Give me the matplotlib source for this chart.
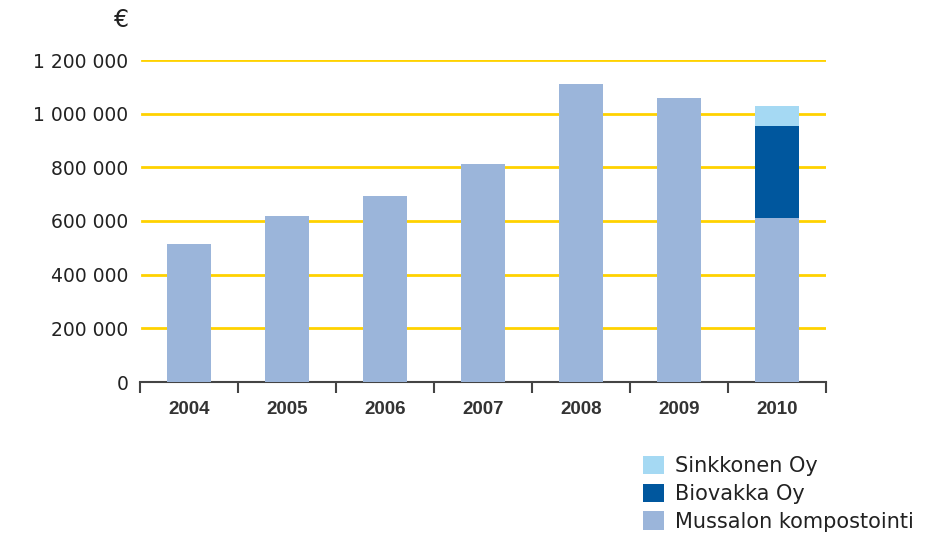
import numpy as np
import matplotlib.pyplot as plt
from matplotlib.ticker import FuncFormatter

years = ["2004", "2005", "2006", "2007", "2008", "2009", "2010"]
mussalon = [514000, 618000, 693000, 812000, 1111000, 1058000, 611000]
biovakka = [0, 0, 0, 0, 0, 0, 343000]
sinkkonen = [0, 0, 0, 0, 0, 0, 75000]
yticks = [0, 200000, 400000, 600000, 800000, 1000000, 1200000]

c_muss = "#9bb5da"
c_bio = "#00579e"
c_sink = "#a5d9f3"
c_grid = "#ffd200"

fig = plt.figure(figsize=(9.28, 5.36), dpi=100, facecolor="w")
ax = fig.add_axes([140/928, 1-382/536, 686/928, 322/536])

x = np.arange(len(years))
b1 = ax.bar(x, mussalon, width=0.45, color=c_muss, zorder=3, label="Mussalon kompostointi")
b2 = ax.bar(x, biovakka, width=0.45, bottom=mussalon, color=c_bio, zorder=3, label="Biovakka Oy")
bottom2 = np.array(mussalon) + np.array(biovakka)
b3 = ax.bar(x, sinkkonen, width=0.45, bottom=bottom2, color=c_sink, zorder=3, label="Sinkkonen Oy")

ax.set_xlim(-0.5, len(years) - 0.5)
ax.set_ylim(0, 1200000)
ax.set_yticks(yticks)
ax.yaxis.set_major_formatter(FuncFormatter(lambda v, p: f"{int(v):,}".replace(",", " ")))
ax.tick_params(axis="y", length=0, pad=8.5, labelsize=13.5, labelcolor="#222222")
for v in yticks[1:]:
    ax.axhline(v, xmin=0.003, color=c_grid, linewidth=2, zorder=1)

ax.set_xticks(np.arange(len(years) + 1) - 0.5)
ax.set_xticklabels([])
ax.tick_params(axis="x", length=8, width=1.5, color="#444444", direction="out")
ax.set_xticks(x, minor=True)
ax.set_xticklabels(years, minor=True, fontsize=13.5, fontweight="bold",
                   family="Liberation Sans", color="#333333")
ax.tick_params(axis="x", which="minor", length=0, pad=14)

for s in ["top", "right", "left"]:
    ax.spines[s].set_visible(False)
ax.spines["bottom"].set_color("#444444")
ax.spines["bottom"].set_linewidth(1.5)

fig.text(122/928, 1-20/536, "€", fontsize=17, ha="center", va="center", color="#222222")

fig.legend(handles=[b3, b2, b1], loc="upper left", bbox_to_anchor=(624/928, 1-437/536),
           frameon=False, fontsize=15, handlelength=1.0, handleheight=1.0,
           labelspacing=0.35, handletextpad=0.55, labelcolor="#222222")

fig.savefig("out.png", dpi=100)
